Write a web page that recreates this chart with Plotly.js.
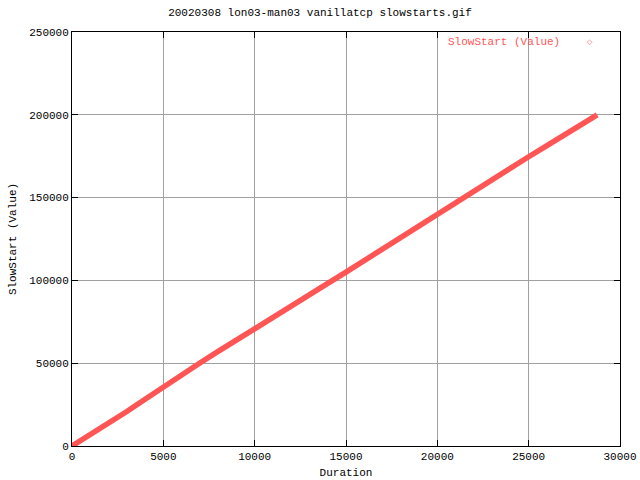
<!DOCTYPE html>
<html>
<head>
<meta charset="utf-8">
<script src="https://cdn.plot.ly/plotly-3.0.1.min.js"></script>
<style>html,body{margin:0;padding:0;background:#fff;}#chart{width:640px;height:480px;}</style>
</head>
<body>
<div id="chart"></div>
<script>
const duration = [0,1000,2000,3000,4000,5000,6000,7000,8000,9000,10000,11000,12000,13000,14000,15000,16000,17000,18000,19000,20000,21000,22000,23000,24000,25000,26000,27000,28000,28750];
const slowStart = [0,6800,13700,20800,28200,35800,43000,50100,57100,64100,71000,77900,84700,91500,98200,105000,112000,119000,126000,133300,140500,147500,154300,161000,167900,174700,181400,188100,194900,200000];
const xTicks = [0,5000,10000,15000,20000,25000,30000];
const yTicks = [0,50000,100000,150000,200000,250000];
const titleText = "20020308 lon03-man03 vanillatcp slowstarts.gif";
const seriesName = "SlowStart (Value)";

const font = {family: "Liberation Mono, DejaVu Sans Mono, monospace", size: 11, color: "#000"};
const red = "rgb(255,85,85)";

const trace = {
  x: duration, y: slowStart, type: "scatter", mode: "lines",
  name: seriesName, line: {color: red, width: 5.5}, showlegend: false
};

const axisCommon = {
  showline: true, linecolor: "#000", linewidth: 1, mirror: "ticks",
  ticks: "inside", ticklen: 6, tickcolor: "#000", tickwidth: 1,
  showgrid: true, gridcolor: "#a0a0a0", gridwidth: 1, zeroline: false,
  tickformat: "d", tickfont: font
};

const layout = {
  width: 640, height: 480,
  margin: {l: 72, r: 20, t: 32, b: 34},
  paper_bgcolor: "#fff", plot_bgcolor: "#fff",
  font: font,
  title: {text: titleText, font: font, x: 0.5, xanchor: "center", y: 0.975, yanchor: "middle"},
  xaxis: Object.assign({}, axisCommon, {range: [0, 30000], tickvals: xTicks, ticktext: xTicks.map(String),
    title: {text: "Duration", font: font, standoff: 6}}),
  yaxis: Object.assign({}, axisCommon, {range: [0, 250000], tickvals: yTicks, ticktext: yTicks.map(String),
    title: {text: "SlowStart (Value)", font: font, standoff: 10}}),
  annotations: [
    {xref: "paper", yref: "paper", x: 0.895, y: 0.976, xanchor: "right", yanchor: "middle",
     text: seriesName, showarrow: false, font: {family: font.family, size: 11, color: red}},
    {xref: "paper", yref: "paper", x: 0.945, y: 0.976, xanchor: "center", yanchor: "middle",
     text: "◇", showarrow: false, font: {family: "DejaVu Sans", size: 7, color: red}}
  ]
};

Plotly.newPlot("chart", [trace], layout, {displayModeBar: false, staticPlot: true});
</script>
</body>
</html>
